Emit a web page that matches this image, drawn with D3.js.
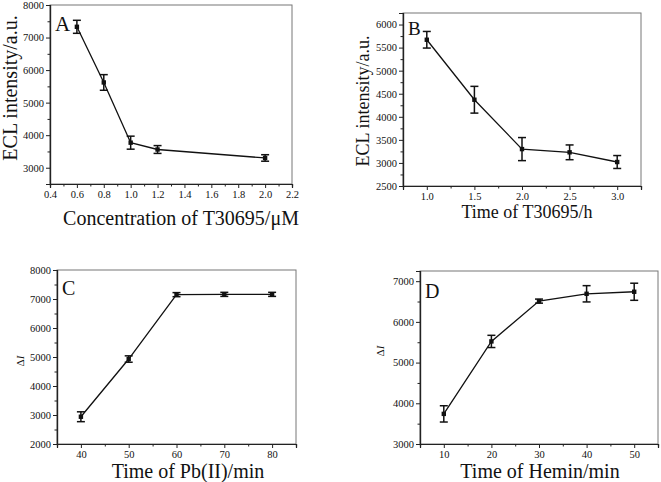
<!DOCTYPE html>
<html>
<head>
<meta charset="utf-8">
<script src="https://cdn.jsdelivr.net/npm/d3@7"></script>
<style>
  body { margin: 0; background: #fff; }
  text { font-family: "Liberation Serif", "Times New Roman", serif; fill: #111; }
</style>
</head>
<body>
<svg id="chart" width="661" height="482"></svg>
<script>
// panel A : ECL vs concentration
var concA = [0.6, 0.8, 1.0, 1.2, 2.0];
var eclA = [7330, 5620, 3770, 3560, 3300];
var errA = [200, 240, 200, 120, 100];
var xTicksA = [0.4, 0.6, 0.8, 1.0, 1.2, 1.4, 1.6, 1.8, 2.0, 2.2];
var yTicksA = [3000, 4000, 5000, 6000, 7000, 8000];

// panel B : ECL vs time of T30695
var timeB = [1.0, 1.5, 2.0, 2.5, 3.0];
var eclB = [5670, 4370, 3300, 3230, 3020];
var errB = [180, 290, 250, 160, 140];
var xTicksB = [1.0, 1.5, 2.0, 2.5, 3.0];
var yTicksB = [2500, 3000, 3500, 4000, 4500, 5000, 5500, 6000];

// panel C : dI vs time of Pb(II)
var timeC = [40, 50, 60, 70, 80];
var dIC = [2940, 4930, 7150, 7160, 7160];
var errC = [170, 110, 70, 70, 70];
var xTicksC = [40, 50, 60, 70, 80];
var yTicksC = [2000, 3000, 4000, 5000, 6000, 7000, 8000];

// panel D : dI vs time of Hemin
var timeD = [10, 20, 30, 40, 50];
var dID = [3740, 5520, 6510, 6690, 6740];
var errD = [200, 150, 50, 200, 210];
var xTicksD = [10, 20, 30, 40, 50];
var yTicksD = [3000, 4000, 5000, 6000, 7000];

var svg = d3.select("#chart");

function drawPanel(p) {
  var x = d3.scaleLinear().domain(p.xDomain).range([p.left, p.right]);
  var y = d3.scaleLinear().domain(p.yDomain).range([p.bottom, p.top]);
  var g = svg.append("g");

  // frame (top/right lighter like Origin)
  g.append("rect")
      .attr("x", p.left).attr("y", p.top)
      .attr("width", p.right - p.left).attr("height", p.bottom - p.top)
      .attr("fill", "none").attr("stroke", "#777").attr("stroke-width", 1);

  var xAxis = g.append("g")
      .attr("transform", "translate(0," + p.bottom + ")")
      .call(d3.axisBottom(x).tickValues(p.xTicks).tickFormat(d3.format(p.xFmt)).tickSize(4).tickPadding(3));
  var xMinor = g.append("g")
      .attr("transform", "translate(0," + p.bottom + ")")
      .call(d3.axisBottom(x).tickValues(p.xMinor).tickFormat("").tickSize(2.5));
  var yAxis = g.append("g")
      .attr("transform", "translate(" + p.left + ",0)")
      .call(d3.axisLeft(y).tickValues(p.yTicks).tickFormat(d3.format("d")).tickSize(4).tickPadding(2));
  var yMinor = g.append("g")
      .attr("transform", "translate(" + p.left + ",0)")
      .call(d3.axisLeft(y).tickValues(p.yMinor).tickFormat("").tickSize(2.5));

  [xAxis, xMinor, yAxis, yMinor].forEach(function(a) {
    a.select(".domain").attr("stroke", "#222").attr("stroke-width", 1.2);
    a.selectAll(".tick line").attr("stroke", "#222");
    a.selectAll(".tick text")
        .attr("font-family", "Liberation Serif, serif")
        .attr("font-size", 10.5)
        .attr("fill", "#222");
  });

  var pts = p.xs.map(function(d, i) { return { x: d, y: p.ys[i], e: p.es[i] }; });

  g.append("path")
      .datum(pts)
      .attr("fill", "none").attr("stroke", "#111").attr("stroke-width", 1.3)
      .attr("d", d3.line().x(function(d) { return x(d.x); }).y(function(d) { return y(d.y); }));

  var eb = g.append("g").selectAll("g").data(pts).enter().append("g")
      .attr("stroke", "#111").attr("stroke-width", 1.5);
  eb.append("line")
      .attr("x1", function(d) { return x(d.x); }).attr("x2", function(d) { return x(d.x); })
      .attr("y1", function(d) { return y(d.y - d.e); }).attr("y2", function(d) { return y(d.y + d.e); });
  eb.append("line")
      .attr("x1", function(d) { return x(d.x) - 4; }).attr("x2", function(d) { return x(d.x) + 4; })
      .attr("y1", function(d) { return y(d.y + d.e); }).attr("y2", function(d) { return y(d.y + d.e); });
  eb.append("line")
      .attr("x1", function(d) { return x(d.x) - 4; }).attr("x2", function(d) { return x(d.x) + 4; })
      .attr("y1", function(d) { return y(d.y - d.e); }).attr("y2", function(d) { return y(d.y - d.e); });

  g.append("g").selectAll("rect").data(pts).enter().append("rect")
      .attr("x", function(d) { return x(d.x) - 2.2; })
      .attr("y", function(d) { return y(d.y) - 2.2; })
      .attr("width", 4.4).attr("height", 4.4)
      .attr("fill", "#111");

  // panel letter
  g.append("text")
      .attr("x", p.left + 5).attr("y", p.top + p.letterDy)
      .attr("font-size", p.letterSize)
      .text(p.letter);

  // axis titles
  g.append("text")
      .attr("x", p.xTitleX).attr("y", p.xTitleY)
      .attr("text-anchor", "middle")
      .attr("font-size", p.xTitleSize)
      .text(p.xTitle);

  var yt = g.append("text")
      .attr("transform", "translate(" + p.yTitleX + "," + p.yTitleY + ")rotate(-90)")
      .attr("text-anchor", "middle")
      .attr("font-size", p.yTitleSize);
  if (p.delta) {
    yt.append("tspan").text("\u0394");
    yt.append("tspan").attr("font-style", "italic").text("I");
  } else {
    yt.text(p.yTitle);
  }
}

drawPanel({
  xs: concA, ys: eclA, es: errA,
  xDomain: [0.4, 2.2], yDomain: [2500, 8000],
  left: 50, right: 292, top: 5, bottom: 184,
  xTicks: xTicksA, xMinor: d3.range(0.5, 2.2, 0.2), xFmt: ".1f",
  yTicks: yTicksA, yMinor: [2500, 3500, 4500, 5500, 6500, 7500],
  letter: "A", letterSize: 21, letterDy: 26,
  xTitle: "Concentration of T30695/\u03bcM", xTitleX: 181, xTitleY: 225, xTitleSize: 20,
  yTitle: "ECL intensity/a.u.", yTitleX: 17, yTitleY: 88, yTitleSize: 20
});

drawPanel({
  xs: timeB, ys: eclB, es: errB,
  xDomain: [0.75, 3.25], yDomain: [2500, 6250],
  left: 403, right: 641, top: 13, bottom: 186,
  xTicks: xTicksB, xMinor: [0.75, 1.25, 1.75, 2.25, 2.75, 3.25], xFmt: ".1f",
  yTicks: yTicksB, yMinor: [2750, 3250, 3750, 4250, 4750, 5250, 5750, 6250],
  letter: "B", letterSize: 19, letterDy: 22,
  xTitle: "Time of T30695/h", xTitleX: 527, xTitleY: 218, xTitleSize: 18,
  yTitle: "ECL intensity/a.u.", yTitleX: 369, yTitleY: 101, yTitleSize: 18
});

drawPanel({
  xs: timeC, ys: dIC, es: errC,
  xDomain: [35, 85], yDomain: [2000, 8000],
  left: 57, right: 296, top: 270, bottom: 444,
  xTicks: xTicksC, xMinor: [35, 45, 55, 65, 75, 85], xFmt: "d",
  yTicks: yTicksC, yMinor: [2500, 3500, 4500, 5500, 6500, 7500],
  letter: "C", letterSize: 20, letterDy: 25,
  xTitle: "Time of Pb(II)/min", xTitleX: 188, xTitleY: 478, xTitleSize: 20,
  delta: true, yTitleX: 24, yTitleY: 361, yTitleSize: 11
});

drawPanel({
  xs: timeD, ys: dID, es: errD,
  xDomain: [5, 55], yDomain: [3000, 7250],
  left: 420, right: 658, top: 271, bottom: 444,
  xTicks: xTicksD, xMinor: [5, 15, 25, 35, 45, 55], xFmt: "d",
  yTicks: yTicksD, yMinor: [3500, 4500, 5500, 6500],
  letter: "D", letterSize: 20, letterDy: 27,
  xTitle: "Time of Hemin/min", xTitleX: 540, xTitleY: 478, xTitleSize: 20,
  delta: true, yTitleX: 384, yTitleY: 351, yTitleSize: 11
});
</script>
</body>
</html>
